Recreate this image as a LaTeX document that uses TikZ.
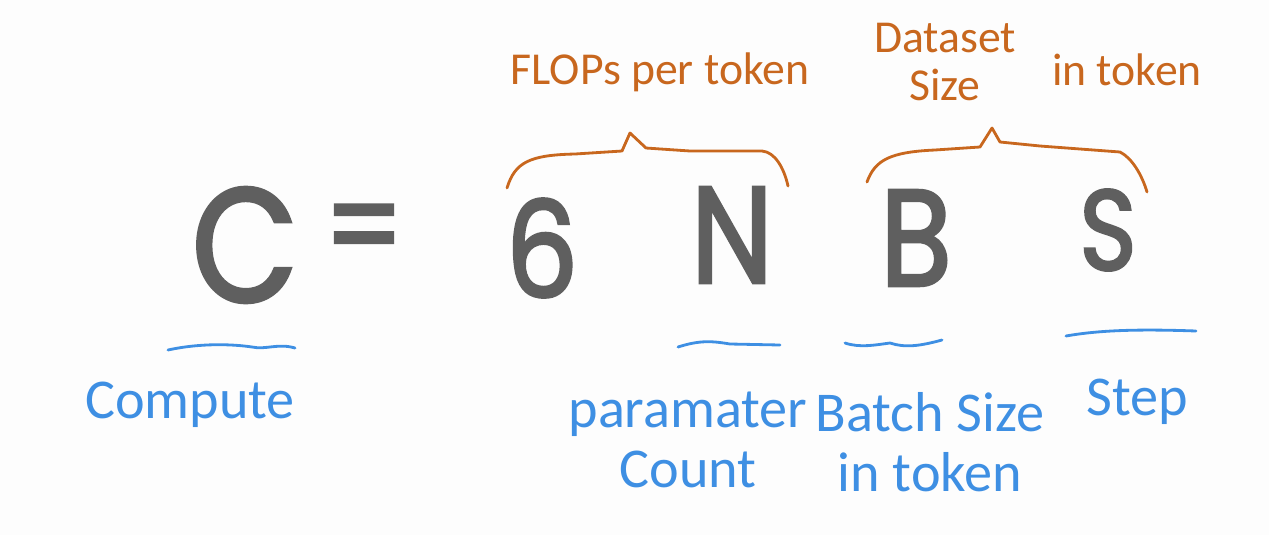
\documentclass[tikz,border=0pt]{standalone}
\usepackage{fontspec}
\setmainfont{Carlito}
\newfontfamily\bigfont{Poppins}[FakeBold=2.2, FakeStretch=0.85]
\usetikzlibrary{positioning}
\definecolor{inkGray}{HTML}{5F5F5F}
\definecolor{inkOrange}{HTML}{C8671E}
\definecolor{inkBlue}{HTML}{3E8FE3}
\definecolor{paper}{HTML}{FDFDFD}

\begin{document}
\begin{tikzpicture}[x=0.02cm, y=-0.02cm,
    symbolStyle/.style={text=inkGray, font=\bigfont\fontsize{#1}{#1}\selectfont, inner sep=0pt},
    symbolStyle/.default=78,
    topLabel/.style={text=inkOrange, font=\fontsize{26}{27}\selectfont, align=center, inner sep=0pt},
    bottomLabel/.style={text=inkBlue, font=\fontsize{32}{34}\selectfont, align=center, inner sep=0pt},
    braceStyle/.style={draw=inkOrange, line width=1.6pt, line cap=round, line join=round},
    waveStyle/.style={draw=inkBlue, line width=1.6pt, line cap=round}
]
    \fill[paper] (0,0) rectangle (1269,535);

    % the formula
    \node[symbolStyle=92] (compute) at (245,245) {C};
    \node[symbolStyle=74] (equals) at (364,238) {=};
    \node[symbolStyle=76] (six) at (542,248) {6};
    \node[symbolStyle] (params) at (732,235) {N};
    \node[symbolStyle] (batch) at (916,238) {B};
    \node[symbolStyle=65] (steps) at (1108,230) {S};

    % orange notes on top
    \node[topLabel] (flops) at (660,72) {FLOPs per token};
    \node[topLabel] (dataset) at (945,62) {Dataset\\Size};
    \node[topLabel] (intoken) at (1127,70) {in token};

    \draw[braceStyle] (507,188) .. controls (515,162) and (530,155) .. (575,154)
        -- (622,151) -- (630,133) -- (646,148) -- (690,151) -- (762,151)
        .. controls (775,152) and (784,168) .. (788,186);
    \draw[braceStyle] (867,182) .. controls (875,160) and (890,152) .. (935,150)
        -- (980,147) -- (992,128) -- (1000,142) -- (1040,146) -- (1120,152)
        .. controls (1132,158) and (1142,175) .. (1147,192);

    % blue notes below
    \draw[waveStyle] (168,350) .. controls (200,343) and (232,344) .. (252,347)
        .. controls (266,350) and (278,343) .. (295,348);
    \draw[waveStyle] (678,347) .. controls (700,340) and (712,341) .. (730,344)
        -- (780,345);
    \draw[waveStyle] (845,343) .. controls (860,348) and (875,345) .. (890,343)
        .. controls (905,348) and (920,346) .. (942,340);
    \draw[waveStyle] (1066,336) .. controls (1100,330) and (1140,329) .. (1196,331);

    \node[bottomLabel] (computeText) at (190,405) {Compute};
    \node[bottomLabel] (paramText) at (688,440) {paramater\\Count};
    \node[bottomLabel] (batchText) at (930,442) {Batch Size\\in token};
    \node[bottomLabel] (stepText) at (1137,402) {Step};
\end{tikzpicture}
\end{document}
